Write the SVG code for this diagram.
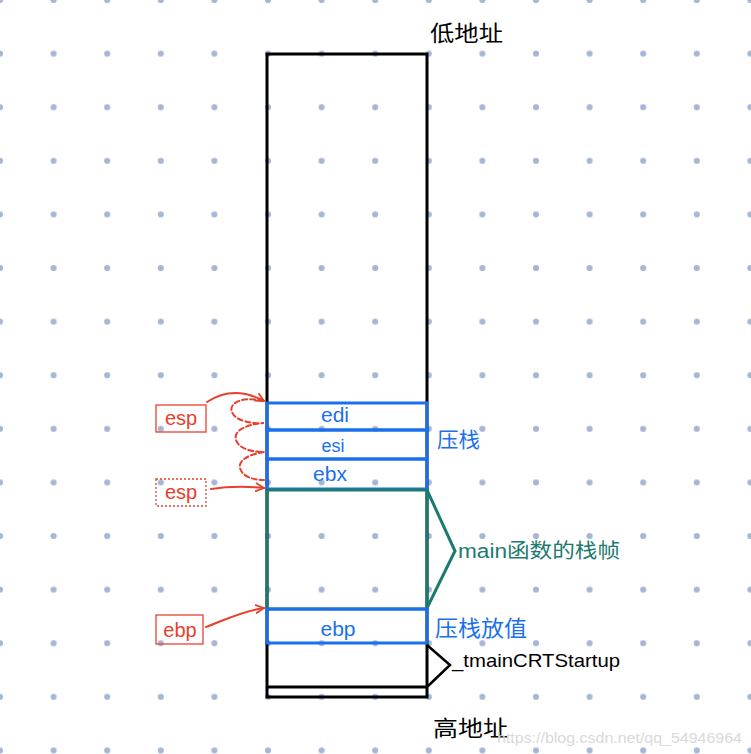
<svg xmlns="http://www.w3.org/2000/svg" width="751" height="754" viewBox="0 0 751 754">
<defs>
<pattern id="dots" x="0" y="0" width="53.6" height="53.6" patternUnits="userSpaceOnUse">
<circle cx="0" cy="0" r="3.1" fill="#a6b7d6"/>
<circle cx="53.6" cy="0" r="3.1" fill="#a6b7d6"/>
<circle cx="0" cy="53.6" r="3.1" fill="#a6b7d6"/>
<circle cx="53.6" cy="53.6" r="3.1" fill="#a6b7d6"/>
</pattern>
<marker id="arr" viewBox="0 0 10 10" refX="9" refY="5" markerWidth="10" markerHeight="10" markerUnits="userSpaceOnUse" orient="auto">
<path d="M1 1 L9 5 L1 9" fill="none" stroke="#e8402e" stroke-width="1.8" stroke-linecap="round" stroke-linejoin="round"/>
</marker>
</defs>
<style>
.hand{font-family:"Liberation Sans","Noto Sans CJK SC",sans-serif;}
.blk{fill:none;stroke:#000;stroke-width:3;}
.blue{fill:none;stroke:#1a70ec;stroke-width:3;}
.teal{fill:none;stroke:#1d7a70;stroke-width:3;}
.btxt{fill:#1a70ec;font-size:21px;text-anchor:middle;}
.rtxt{fill:#e8402e;font-size:20px;text-anchor:middle;}
.rbox{fill:none;stroke:#e8402e;stroke-width:1.3;}
.red{fill:none;stroke:#e8402e;stroke-width:2;stroke-linecap:round;}
</style>
<rect width="751" height="754" fill="#fff"/>
<rect width="751" height="754" fill="url(#dots)"/>

<g id="stack">
<rect x="267" y="54" width="160" height="643" class="blk"/>
<line x1="267" y1="687" x2="427" y2="687" class="blk"/>
</g>
<g id="edi">
<rect x="267" y="403" width="160" height="27" class="blue"/>
<text x="335" y="422" class="hand btxt">edi</text>
</g>
<g id="esi">
<rect x="267" y="430" width="160" height="29" class="blue"/>
<text x="333" y="452" class="hand btxt" style="font-size:18px">esi</text>
</g>
<g id="ebx">
<rect x="267" y="459" width="160" height="30" class="blue"/>
<text x="330" y="481" class="hand btxt">ebx</text>
</g>
<g id="mainframe">
<rect x="267" y="490" width="160" height="119" class="teal"/>
<path d="M427 490 L455 551 L427 608" class="teal"/>
<text x="458" y="558" class="hand" fill="#1d7a70" font-size="20" textLength="162" lengthAdjust="spacingAndGlyphs">main函数的栈帧</text>
</g>
<g id="ebp">
<rect x="267" y="609" width="160" height="34" class="blue"/>
<text x="338" y="636" class="hand btxt">ebp</text>
</g>
<g id="push-label">
<text x="437" y="447" class="hand" fill="#1a70ec" font-size="21" textLength="43" lengthAdjust="spacingAndGlyphs">压栈</text>
</g>
<g id="push-value-label">
<text x="435" y="636" class="hand" fill="#1a70ec" font-size="22" textLength="92" lengthAdjust="spacingAndGlyphs">压栈放值</text>
</g>
<g id="tmain">
<path d="M427 645 L450 665 L427 687" class="blk" style="stroke-width:2.5"/>
<text x="452" y="667" class="hand" fill="#000" font-size="19" textLength="168" lengthAdjust="spacingAndGlyphs">_tmainCRTStartup</text>
</g>
<g id="low-addr">
<text x="430" y="41" class="hand" fill="#000" font-size="22" textLength="73" lengthAdjust="spacingAndGlyphs">低地址</text>
</g>
<g id="high-addr">
<text x="433" y="736" class="hand" fill="#000" font-size="22" textLength="75" lengthAdjust="spacingAndGlyphs">高地址</text>
</g>
<g id="esp1">
<rect x="156" y="405" width="50" height="27" class="rbox"/>
<text x="181" y="425" class="hand rtxt">esp</text>
</g>
<g id="esp2">
<rect x="156" y="479" width="50" height="27" class="rbox" stroke-dasharray="2,2"/>
<text x="181" y="499" class="hand rtxt">esp</text>
</g>
<g id="ebp-ptr">
<rect x="156" y="615" width="47" height="29" class="rbox"/>
<text x="180" y="637" class="hand rtxt">ebp</text>
</g>

<g id="connectors">
<path d="M207 402 C222 392 240 388 264 401" class="red" marker-end="url(#arr)"/>
<path d="M263 401 C245 396 228 402 232 412 C235 421 252 424 264 423 C248 424 233 430 236 440 C239 449 252 452 264 452 C250 454 238 460 240 468 C242 476 252 480 264 480" class="red" stroke-dasharray="5,3"/>
<path d="M211 489 C230 486 245 486 264 488" class="red" marker-end="url(#arr)"/>
<path d="M206 627 C225 620 242 611 264 608" class="red" marker-end="url(#arr)"/>
</g>

<text x="742" y="743" class="hand" fill="#d9d9d9" font-size="15" text-anchor="end" textLength="245" lengthAdjust="spacingAndGlyphs">https://blog.csdn.net/qq_54946964</text>
</svg>
